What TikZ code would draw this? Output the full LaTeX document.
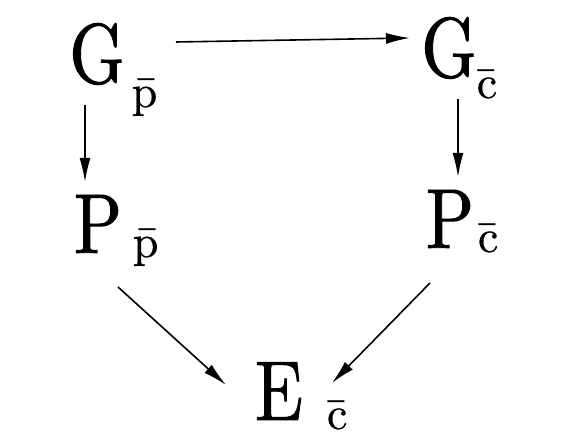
\documentclass[tikz,border=0pt]{standalone}
\usepackage{fontspec}
\usepackage{tikz}
\usetikzlibrary{calc,arrows.meta}
\newfontfamily\capfont{lmroman10-regular.otf}[FakeStretch=0.83,FakeBold=1]
\newfontfamily\subfont{lmroman10-regular.otf}[FakeBold=0.6]
% letter, subscript, gap, drop
\newcommand{\lbl}[4]{%
	{\fontsize{42.5}{42.5}\capfont #1}\hspace*{#3}%
	\raisebox{-#4}{\fontsize{23}{23}\subfont\={#2}}}
\tikzset{
	obj/.style={inner sep=0pt,anchor=base west},
	map/.style={line width=0.8pt,-{Latex[length=12pt,width=5.5pt]}}
}

\begin{document}
\begin{tikzpicture}[x=0.5pt,y=-0.5pt]
	\useasboundingbox (0,0) rectangle (570,438);
	\node[obj] (Gp) at (69,83) {\lbl{G}{p}{3.5pt}{12pt}};
	\node[obj] (Gc) at (421,77) {\lbl{G}{c}{0pt}{10.5pt}};
	\node[obj] (Pp) at (73.5,253) {\lbl{P}{p}{5.5pt}{2pt}};
	\node[obj] (Pc) at (425.5,248) {\lbl{P}{c}{2pt}{2pt}};
	\node[obj] (E) at (254.5,420) {\lbl{E}{c}{12pt}{4.5pt}};
	\draw[map] ($(Gp.base west) + (107,-41)$) -- ($(Gc.base west) + (-11,-39)$);
	\draw[map] ($(Gp.base west) + (16,22)$) -- ($(Pp.base west) + (11.5,-71)$);
	\draw[map] ($(Gc.base west) + (37,22)$) -- ($(Pc.base west) + (32.5,-71)$);
	\draw[map] ($(Pp.base west) + (44.5,34)$) -- ($(E.base west) + (-28.5,-35)$);
	\draw[map] ($(Pc.base west) + (4.5,35)$) -- ($(E.base west) + (77.5,-37)$);
\end{tikzpicture}
\end{document}
